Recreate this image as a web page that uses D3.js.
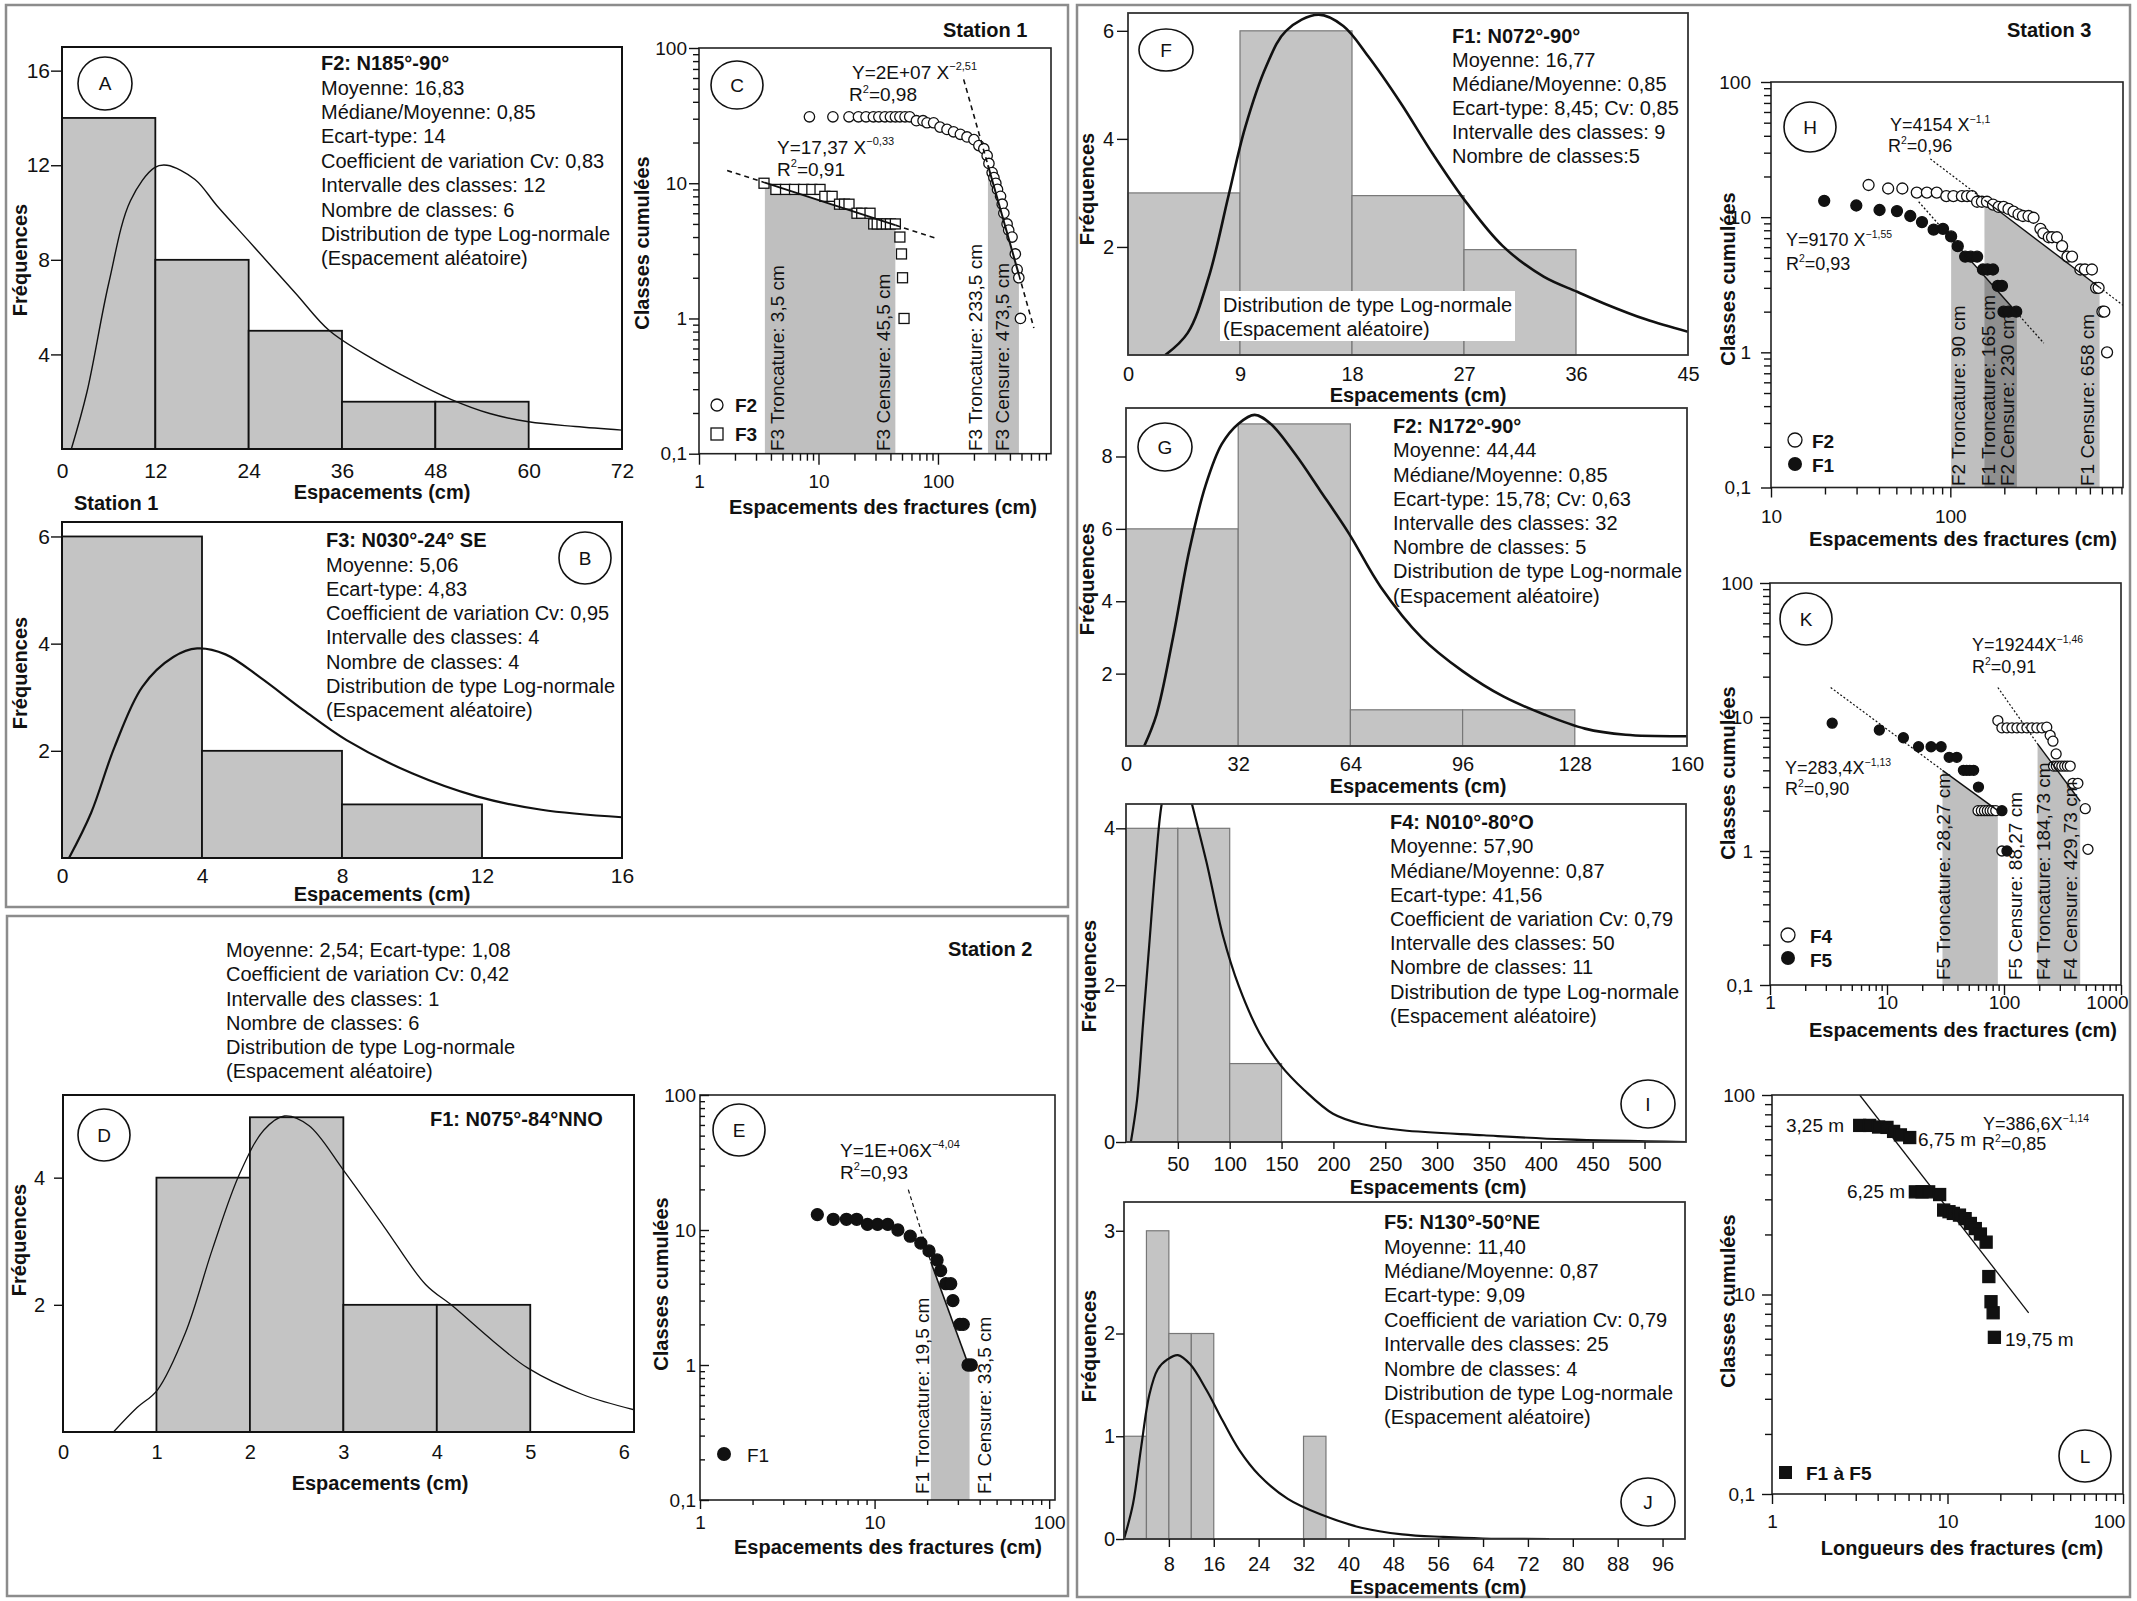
<!DOCTYPE html>
<meta charset="utf-8">
<script src="https://d3js.org/d3.v7.min.js"></script>
<style>body{margin:0;background:#fff}</style>
<div id="chart"></div>
<script>
const FONT = "'Liberation Sans', Arial, Helvetica, sans-serif";

// ---------- histogram data: class limits, frequencies, fitted log-normal curve ----------
const binsA = [[0,12],[12,24],[24,36],[36,48],[48,60]];
const freqA = [14, 8, 5, 2, 2];
const curveA = [[1.2,0],[3.2,2.4],[6,7],[8.8,10.5],[11.9,11.9],[13.5,12],[17.1,11.4],[19.9,10.3],[24,8.8],[30,6.6],[34.4,5],[40,3.8],[45,2.9],[50,2.1],[55,1.5],[60,1.15],[66,0.95],[72,0.8]];

const binsB = [[0,4],[4,8],[8,12]];
const freqB = [6, 2, 1];
const curveB = [[0.2,0],[0.83,0.84],[1.5,2.07],[2.3,3.2],[3.18,3.75],[3.86,3.91],[4.67,3.8],[5.66,3.37],[6.9,2.76],[8.13,2.2],[10,1.58],[11.85,1.15],[13.7,0.9],[16,0.76]];

const binsD = [[1,2],[2,3],[3,4],[4,5]];
const freqD = [4, 4.95, 2, 2];
const curveD = [[0.54,0],[0.79,0.38],[1.01,0.66],[1.31,1.56],[1.6,2.88],[1.89,4.06],[2.15,4.75],[2.37,4.97],[2.63,4.82],[3.0,4.12],[3.44,3.22],[3.88,2.32],[4.17,1.98],[4.61,1.42],[4.98,1.0],[5.56,0.59],[6.11,0.35]];

const binsF = [[0,9],[9,18],[18,27],[27,36]];
const freqF = [3, 6, 2.95, 1.95];
const curveF = [[3,0],[4.8,0.41],[6.5,1.45],[8.1,2.97],[9.4,4.2],[11.1,5.34],[12.7,6.0],[15.3,6.3],[17.3,6.09],[19.3,5.53],[21.9,4.67],[24.5,3.72],[27.2,2.82],[30.1,2.02],[33.4,1.45],[36.1,1.17],[38.3,0.95],[41.6,0.66],[45,0.43]];

const binsG = [[0,32],[32,64],[64,96],[96,128]];
const freqG = [6, 8.9, 1, 1];
const curveG = [[5.2,0],[8.7,0.87],[13.4,2.99],[18,5.38],[22.7,7.2],[27.3,8.34],[32,8.9],[36.7,9.15],[41.3,8.9],[48.3,8.06],[55.3,7.07],[63.6,5.87],[72.7,4.39],[84.4,2.99],[96,2.07],[107.6,1.37],[119.3,0.87],[130.9,0.48],[142.5,0.31],[160,0.27]];

const binsI = [[0,50],[50,100],[100,150]];
const freqI = [4, 4, 1];
const curveI = [[4.7,0],[10.6,0.53],[16.5,1.52],[22.4,2.51],[28.3,3.5],[34.3,4.3],[42,4.75],[50,4.8],[57,4.65],[63.8,4.3],[77.6,3.57],[93.3,2.64],[109,1.98],[128.7,1.39],[148.4,0.99],[172,0.66],[199.6,0.36],[227,0.23],[266.5,0.15],[345,0.086],[424,0.033],[541,0]];

const binsJ = [[0,4],[4,8],[8,12],[12,16],[32,36]];
const freqJ = [1, 3, 2, 2, 1];
const curveJ = [[0,0],[1.6,0.34],[3.05,0.89],[4.5,1.4],[6,1.65],[7.8,1.75],[9.6,1.79],[11.8,1.7],[14.7,1.45],[17.6,1.15],[20.5,0.87],[24.1,0.62],[29.2,0.39],[35,0.24],[42.3,0.11],[49.6,0.045],[56.9,0.02],[64,0.005],[75.8,0]];

// ---------- cumulative plots: [spacing (cm), cumulative classes] ----------
const ptsC_F2 = [[8.4,31],[13.2,31],[18,31],[21.6,31],[25,31],[28.8,31],[32,31],[36,31],[40,31],[44,31],[48,31],[53,31],[58,31],[66,29],[75,29],[81,28],[92,28],[104,26],[119,25],[135,24],[154,23],[175,22],[200,21],[220,19],[242,18],[258,16],[267,14],[284,12],[294,11],[305,10],[315,9],[334,8],[345,7],[356,6],[379,5],[391,4.5],[417,4],[444,3],[460,2.3],[475,2],[490,1]];
const ptsC_F3 = [[3.5,10],[4.4,9],[5.3,9],[6.3,9],[7.5,9],[8.8,9],[10.3,9],[11.3,8],[13,8],[15,7],[16.5,7],[18,7],[21,6],[23,6],[27,6],[29,5],[31,5],[34,5],[37,5],[40,5],[44,5],[48,4],[49.5,3],[50.5,2],[52,1]];
const fitC_F2 = [[164,58.6],[262,13.6],[476,2.1],[635,0.85]];
const fitC_F3 = [[1.72,12.4],[3.56,10.1],[44,4.9],[98,3.9]];

const ptsE_F1 = [[4.7,13],[5.8,12],[6.9,12],[7.9,12],[9.1,11],[10.4,11],[11.9,11],[13.6,10],[16,9],[18.4,8],[20.5,7],[22.8,6],[23.9,5],[25.6,4],[27.3,4],[28.1,3],[30.8,2],[32.2,2],[34.3,1],[35.8,1]];
const fitE_F1 = [[15.6,19.9],[21,5.8],[35,0.95]];

const ptsH_F2 = [[35,17.3],[45,16.3],[54,16.3],[65,15.2],[74,15.2],[84,15.2],[95,14.3],[104,14.3],[116,14.3],[124,14.3],[132,14.3],[141,13],[150,13],[160,13],[173,12.4],[186,11.9],[198,11.9],[211,11.5],[225,11],[240,10.5],[254,10.2],[273,10.2],[291,9.9],[318,8.2],[330,7.6],[354,7.1],[369,7.1],[393,7.1],[420,6.1],[450,5.1],[477,5.1],[531,4.1],[563,4.1],[616,4.1],[650,3.0],[671,3.0],[705,2.0],[722,2.0],[748,1.0]];
const ptsH_F1 = [[19.8,13.2],[29.9,12.2],[40.3,11.3],[50.4,11.1],[59.8,10.2],[69.5,9.2],[80.7,8.1],[91,8.2],[101,7.2],[110,6.1],[121,5.1],[130,5.1],[141,5.1],[152,4.1],[161,4.1],[173,4.1],[184,3.1],[194,3.1],[198,2.0],[211,2.0],[233,2.0]];
const fitH_F1 = [[66.6,13],[101,6.96],[235,1.96],[332,1.17]];
const fitH_F2 = [[77.3,27],[155,13.4],[680,3.02],[918,2.23]];

const ptsK_F4 = [[60,2],[64,2],[68,2],[72,2],[76,2],[80,2],[85,2],[96,1],[88.6,9.4],[96,8.3],[106,8.3],[117,8.3],[129,8.3],[142,8.3],[157,8.3],[173,8.3],[191,8.3],[211,8.3],[232,8.4],[248,7.3],[262,6.6],[279,5.3],[265,4.3],[280,4.3],[295,4.3],[312,4.3],[330,4.3],[348,4.3],[368,4.3],[388,3.2],[428,3.2],[495,2.07],[522,1.03]];
const ptsK_F5 = [[3.4,9],[8.6,8],[13.8,7],[18.6,6],[23.8,6],[29,6],[34,5],[39.5,5],[45,4],[48,4],[51,4],[55,4],[60.5,3],[96,2],[106,1]];
const fitK_F5 = [[3.3,16.6],[29.8,4.0],[88.6,2.0]];
const fitK_F4 = [[88.6,16.6],[193.6,6.3],[448,2.35]];

const ptsL = [[3.16,70.4],[3.6,70.4],[4.05,69.1],[4.52,68.8],[4.93,65.7],[5.39,63.1],[6.09,61.2],[6.56,32.7],[7.16,32.7],[7.81,32.7],[9.02,31.7],[9.51,26.5],[10.2,26],[10.8,25.5],[11.7,25],[12.6,24],[13.5,22.7],[14.4,21.4],[15.4,20.1],[16.6,18.3],[17.2,12.3],[17.7,9.2],[18.2,8.1],[18.5,6.1]];
const fitL = [[3.16,100],[29,8.09]];
const yTicksL = [1, 10, 100];
const yTickLabelsL = ["0,1", "10", "100"];

// ---------- text blocks ----------
const infoA = ["F2: N185°-90°","Moyenne: 16,83","Médiane/Moyenne: 0,85","Ecart-type: 14","Coefficient de variation Cv: 0,83","Intervalle des classes: 12","Nombre de classes: 6","Distribution de type Log-normale","(Espacement aléatoire)"];
const infoB = ["F3: N030°-24° SE","Moyenne: 5,06","Ecart-type: 4,83","Coefficient de variation Cv: 0,95","Intervalle des classes: 4","Nombre de classes: 4","Distribution de type Log-normale","(Espacement aléatoire)"];
const infoD = ["Moyenne: 2,54; Ecart-type: 1,08","Coefficient de variation Cv: 0,42","Intervalle des classes: 1","Nombre de classes: 6","Distribution de type Log-normale","(Espacement aléatoire)"];
const infoF = ["F1: N072°-90°","Moyenne: 16,77","Médiane/Moyenne: 0,85","Ecart-type: 8,45; Cv: 0,85","Intervalle des classes: 9","Nombre de classes:5"];
const infoF2 = ["Distribution de type Log-normale","(Espacement aléatoire)"];
const infoG = ["F2: N172°-90°","Moyenne: 44,44","Médiane/Moyenne: 0,85","Ecart-type: 15,78; Cv: 0,63","Intervalle des classes: 32","Nombre de classes: 5","Distribution de type Log-normale","(Espacement aléatoire)"];
const infoI = ["F4: N010°-80°O","Moyenne: 57,90","Médiane/Moyenne: 0,87","Ecart-type: 41,56","Coefficient de variation Cv: 0,79","Intervalle des classes: 50","Nombre de classes: 11","Distribution de type Log-normale","(Espacement aléatoire)"];
const infoJ = ["F5: N130°-50°NE","Moyenne: 11,40","Médiane/Moyenne: 0,87","Ecart-type: 9,09","Coefficient de variation Cv: 0,79","Intervalle des classes: 25","Nombre de classes: 4","Distribution de type Log-normale","(Espacement aléatoire)"];

// ---------- svg ----------
const svg = d3.select("#chart").append("svg")
  .attr("width", 2137).attr("height", 1601)
  .style("font-family", FONT);
svg.append("rect").attr("width", 2137).attr("height", 1601).attr("fill", "#fff");

// outer frames
[[6,5,1068,907],[7,916,1068,1596],[1077,5,2130,1597]].forEach(f => {
  svg.append("rect").attr("x", f[0]).attr("y", f[1]).attr("width", f[2]-f[0]).attr("height", f[3]-f[1])
    .attr("fill", "none").attr("stroke", "#8c8c8c").attr("stroke-width", 2.5);
});

function addText(x, yc, s, size, opts) {
  opts = opts || {};
  return svg.append("text").attr("x", x).attr("y", yc + size*0.36)
    .attr("font-size", size).attr("font-weight", opts.bold ? "bold" : "normal")
    .attr("text-anchor", opts.anchor || "start").attr("fill", "#111").text(s);
}
function addVText(cx, y, s, size, opts) {
  opts = opts || {};
  return svg.append("text").attr("transform", `translate(${cx + size*0.36},${y}) rotate(-90)`)
    .attr("font-size", size).attr("font-weight", opts.bold ? "bold" : "normal")
    .attr("text-anchor", opts.anchor || "middle").attr("fill", "#111").text(s);
}
function addEq(x, yc, parts, size) {
  const t = svg.append("text").attr("x", x).attr("y", yc + size*0.36).attr("font-size", size).attr("fill", "#111");
  let shift = 0;
  parts.forEach(p => {
    const sup = Array.isArray(p);
    const target = sup ? -size*0.45 : 0;
    t.append("tspan").attr("dy", target - shift).attr("font-size", sup ? size*0.58 : size).text(sup ? p[0] : p);
    shift = target;
  });
}
function block(x, y0, step, lines, boldFirst) {
  lines.forEach((s, i) => addText(x, y0 + i*step, s, 20, {bold: boldFirst && i === 0}));
}
function badge(cx, cy, rx, ry, letter) {
  svg.append("ellipse").attr("cx", cx).attr("cy", cy).attr("rx", rx).attr("ry", ry)
    .attr("fill", "none").attr("stroke", "#111").attr("stroke-width", 1.6);
  addText(cx, cy, letter, 19, {anchor: "middle"});
}
function styleAxis(a, size) {
  a.select(".domain").remove();
  a.attr("font-size", size).attr("font-family", FONT);
  a.selectAll("line").attr("stroke", "#111").attr("stroke-width", 1.4);
  a.selectAll("text").attr("fill", "#111");
}

// ---------- histogram panel ----------
function histPanel(p) {
  const [x0, y0, x1, y1] = p.box;
  const x = d3.scaleLinear().domain(p.xDomain).range([x0, x1]);
  const y = d3.scaleLinear().domain(p.yDomain).range([y1, y0]);
  const g = svg.append("g");
  const id = "clip" + p.name;
  g.append("clipPath").attr("id", id).append("rect")
    .attr("x", x0).attr("y", y0).attr("width", x1 - x0).attr("height", y1 - y0);
  g.selectAll(".bar").data(p.bins).join("rect").attr("class", "bar")
    .attr("x", d => x(d[0])).attr("width", d => x(d[1]) - x(d[0]))
    .attr("y", (d, i) => y(p.freq[i])).attr("height", (d, i) => y(0) - y(p.freq[i]))
    .attr("fill", "#c4c4c4").attr("stroke", p.barStroke).attr("stroke-width", p.barWidth);
  if (p.overlay) p.overlay(g);
  g.append("path").datum(p.curve).attr("clip-path", `url(#${id})`)
    .attr("fill", "none").attr("stroke", "#111").attr("stroke-width", p.curveWidth)
    .attr("d", d3.line().x(d => x(d[0])).y(d => y(d[1])).curve(d3.curveCatmullRom.alpha(0.5)));
  g.append("rect").attr("x", x0).attr("y", y0).attr("width", x1 - x0).attr("height", y1 - y0)
    .attr("fill", "none").attr("stroke", p.boxStroke).attr("stroke-width", p.boxWidth);
  const ax = g.append("g").attr("transform", `translate(0,${y1})`)
    .call(d3.axisBottom(x).tickValues(p.xTicks).tickSize(p.xt[0]).tickPadding(p.xt[1]).tickFormat(d3.format("d")));
  styleAxis(ax, p.font);
  const ay = g.append("g").attr("transform", `translate(${x0},0)`)
    .call(d3.axisLeft(y).tickValues(p.yTicks).tickSize(p.yt[0]).tickPadding(p.yt[1]).tickFormat(d3.format("d")));
  styleAxis(ay, p.font);
  return {x, y};
}

// ---------- log-log cumulative panel ----------
function logTickValues(dom) {
  const out = [];
  for (let e = Math.floor(Math.log10(dom[0])); e <= Math.ceil(Math.log10(dom[1])); e++) {
    for (let k = 1; k <= 9; k++) {
      const v = +(k * Math.pow(10, e)).toPrecision(6);
      if (v >= dom[0] * 0.999 && v <= dom[1] * 1.001) out.push(v);
    }
  }
  return out;
}
const isPow10 = v => Math.abs(Math.log10(v) - Math.round(Math.log10(v))) < 1e-9;
const frLabel = v => String(v).replace(".", ",");

function logPanel(p) {
  const [x0, y0, x1, y1] = p.box;
  const x = d3.scaleLog().domain(p.xDomain).range([x0, x1]);
  const y = d3.scaleLog().domain(p.yDomain).range([y1, y0]);
  const g = svg.append("g");
  const id = "clip" + p.name;
  g.append("clipPath").attr("id", id).append("rect")
    .attr("x", x0).attr("y", y0).attr("width", x1 - x0).attr("height", y1 - y0);
  const inner = g.append("g").attr("clip-path", `url(#${id})`);
  // shaded truncation / censoring bands under the solid part of each fit
  p.fits.forEach(f => {
    if (!f.band) return;
    const i = f.kinds.indexOf("solid");
    const a = f.pts[i], b = f.pts[i + 1];
    inner.append("path")
      .attr("d", `M${x(a[0])},${y1}L${x(a[0])},${y(a[1])}L${x(b[0])},${y(b[1])}L${x(b[0])},${y1}Z`)
      .attr("fill", "#000").attr("fill-opacity", 0.25);
  });
  // points
  p.series.forEach(s => {
    if (s.shape === "circle") {
      inner.selectAll(null).data(s.data).join("circle")
        .attr("cx", d => x(d[0])).attr("cy", d => y(d[1])).attr("r", s.size)
        .attr("fill", s.filled ? "#111" : "#fff").attr("stroke", "#111").attr("stroke-width", 1.3);
    } else {
      inner.selectAll(null).data(s.data).join("rect")
        .attr("x", d => x(d[0]) - s.size).attr("y", d => y(d[1]) - s.size)
        .attr("width", 2*s.size).attr("height", 2*s.size)
        .attr("fill", s.filled ? "#111" : "#fff").attr("stroke", "#111").attr("stroke-width", 1.3);
    }
  });
  // fit lines
  p.fits.forEach(f => {
    for (let i = 0; i < f.pts.length - 1; i++) {
      const a = f.pts[i], b = f.pts[i + 1], solid = f.kinds[i] === "solid";
      inner.append("line").attr("x1", x(a[0])).attr("y1", y(a[1])).attr("x2", x(b[0])).attr("y2", y(b[1]))
        .attr("stroke", "#111").attr("stroke-width", solid ? f.w : f.dw)
        .attr("stroke-dasharray", solid ? null : f.dash);
    }
  });
  g.append("rect").attr("x", x0).attr("y", y0).attr("width", x1 - x0).attr("height", y1 - y0)
    .attr("fill", "none").attr("stroke", "#222").attr("stroke-width", 1.6);
  // axes with minor ticks
  const xv = logTickValues(p.xDomain), yv = p.yMajor || logTickValues(p.yDomain).filter(isPow10);
  const xMaj = xv.filter(isPow10), xMin = xv.filter(v => !isPow10(v));
  const yMin = logTickValues(p.yDomain).filter(v => !isPow10(v));
  const yFmt = p.yLabels ? (v => p.yLabels[p.yMajor.indexOf(v)]) : frLabel;
  const ax = g.append("g").attr("transform", `translate(0,${y1})`)
    .call(d3.axisBottom(x).tickValues(xMaj).tickSize(p.xt[0]).tickPadding(p.xt[2]).tickFormat(frLabel));
  styleAxis(ax, p.font);
  if (p.lastXLabelDx) ax.selectAll("text").filter((d, i, n) => i === n.length - 1).attr("dx", p.lastXLabelDx);
  styleAxis(g.append("g").attr("transform", `translate(0,${y1})`)
    .call(d3.axisBottom(x).tickValues(xMin).tickSize(p.xt[1]).tickFormat("")), p.font);
  styleAxis(g.append("g").attr("transform", `translate(${x0},0)`)
    .call(d3.axisLeft(y).tickValues(yv).tickSize(p.yt[0]).tickPadding(p.yt[2]).tickFormat(yFmt)), p.font);
  styleAxis(g.append("g").attr("transform", `translate(${x0},0)`)
    .call(d3.axisLeft(y).tickValues(yMin).tickSize(p.yt[1]).tickFormat("")), p.font);
  return {x, y};
}

// ================= Station 1 =================
histPanel({name: "A", box: [62, 47, 622, 449], xDomain: [0, 72], yDomain: [0, 17],
  bins: binsA, freq: freqA, curve: curveA, xTicks: [0,12,24,36,48,60,72], yTicks: [4,8,12,16],
  xt: [0, 14], yt: [11, 1], font: 21, barStroke: "#111", barWidth: 1.8, curveWidth: 1.4, boxStroke: "#111", boxWidth: 2});
badge(105, 83.5, 27, 26.5, "A");
block(321, 63, 24.4, infoA, true);
addVText(19.5, 260, "Fréquences", 20, {bold: true});
addText(382, 492, "Espacements (cm)", 20, {bold: true, anchor: "middle"});

histPanel({name: "B", box: [62, 522, 622, 858], xDomain: [0, 16], yDomain: [0, 6.27],
  bins: binsB, freq: freqB, curve: curveB, xTicks: [0,4,8,12,16], yTicks: [2,4,6],
  xt: [0, 10.5], yt: [11, 1], font: 21, barStroke: "#111", barWidth: 1.8, curveWidth: 2.2, boxStroke: "#111", boxWidth: 2});
badge(585, 558, 26, 26, "B");
block(326, 540, 24.3, infoB, true);
addText(74, 503, "Station 1", 20, {bold: true});
addVText(19.5, 673, "Fréquences", 20, {bold: true});
addText(382, 894, "Espacements (cm)", 20, {bold: true, anchor: "middle"});

logPanel({name: "C", box: [699, 48, 1051, 453.7], xDomain: [1, 883], yDomain: [0.1, 100],
  xt: [11, 7, 9.5], yt: [10, 6, 2], font: 19,
  series: [{data: ptsC_F2, shape: "circle", filled: false, size: 5.2},
           {data: ptsC_F3, shape: "square", filled: false, size: 5}],
  fits: [{pts: fitC_F3, kinds: ["dash","solid","dash"], band: true, w: 2, dw: 1.6, dash: "5,4"},
         {pts: fitC_F2, kinds: ["dash","solid","dash"], band: true, w: 2, dw: 1.6, dash: "5,4"}]});
badge(737, 85, 26, 24, "C");
addText(943, 30, "Station 1", 20, {bold: true});
addEq(852, 72, ["Y=2E+07 X", ["−2,51"]], 19);
addEq(849, 94.6, ["R", ["2"], "=0,98"], 19);
addEq(777, 147, ["Y=17,37 X", ["−0,33"]], 19);
addEq(777, 169, ["R", ["2"], "=0,91"], 19);
addVText(777, 451, "F3 Troncature: 3,5 cm", 19, {anchor: "start"});
addVText(883, 451, "F3 Censure: 45,5 cm", 19, {anchor: "start"});
addVText(975, 451, "F3 Troncature: 233,5 cm", 19, {anchor: "start"});
addVText(1002, 451, "F3 Censure: 473,5 cm", 19, {anchor: "start"});
svg.append("circle").attr("cx", 717).attr("cy", 405).attr("r", 6).attr("fill", "#fff").attr("stroke", "#111").attr("stroke-width", 1.3);
addText(735, 405, "F2", 19, {bold: true});
svg.append("rect").attr("x", 711).attr("y", 428).attr("width", 12).attr("height", 12).attr("fill", "#fff").attr("stroke", "#111").attr("stroke-width", 1.3);
addText(735, 434, "F3", 19, {bold: true});
addVText(642, 243, "Classes cumulées", 20, {bold: true});
addText(883, 507, "Espacements des fractures (cm)", 20, {bold: true, anchor: "middle"});

// ================= Station 2 =================
block(226, 950, 24.2, infoD, false);
addText(948, 949, "Station 2", 20, {bold: true});
histPanel({name: "D", box: [63, 1095, 634, 1432], xDomain: [0, 6.11], yDomain: [0, 5.3],
  bins: binsD, freq: freqD, curve: curveD, xTicks: [0,1,2,3,4,5,6], yTicks: [2,4],
  xt: [0, 13], yt: [9, 9], font: 20, barStroke: "#111", barWidth: 1.8, curveWidth: 1.3, boxStroke: "#111", boxWidth: 2});
badge(104, 1135, 26, 26, "D");
addText(430, 1119, "F1: N075°-84°NNO", 20, {bold: true});
addVText(19, 1240, "Fréquences", 20, {bold: true});
addText(380, 1483, "Espacements (cm)", 20, {bold: true, anchor: "middle"});

logPanel({name: "E", box: [700, 1095, 1055, 1500], xDomain: [1, 108], yDomain: [0.1, 100],
  xt: [9, 5, 7], yt: [-9, -5, 4], font: 19,
  series: [{data: ptsE_F1, shape: "circle", filled: true, size: 6}],
  fits: [{pts: fitE_F1, kinds: ["dash","solid"], band: true, w: 1.6, dw: 1.2, dash: "4,3"}]});
badge(739, 1130, 26, 26, "E");
addEq(840, 1150, ["Y=1E+06X", ["−4,04"]], 19);
addEq(840, 1172, ["R", ["2"], "=0,93"], 19);
addVText(922, 1494, "F1 Troncature: 19,5 cm", 19, {anchor: "start"});
addVText(984, 1494, "F1 Censure: 33,5 cm", 19, {anchor: "start"});
svg.append("circle").attr("cx", 724).attr("cy", 1454).attr("r", 7).attr("fill", "#111");
addText(747, 1455, "F1", 19);
addVText(661, 1284, "Classes cumulées", 20, {bold: true});
addText(888, 1547, "Espacements des fractures (cm)", 20, {bold: true, anchor: "middle"});

// ================= Station 3 =================
histPanel({name: "F", box: [1128, 13, 1688, 355], xDomain: [0, 45], yDomain: [0, 6.33],
  bins: binsF, freq: freqF, curve: curveF, xTicks: [0,9,18,27,36,45], yTicks: [2,4,6],
  xt: [0, 12], yt: [11, 3], font: 20, barStroke: "#777", barWidth: 1.2, curveWidth: 2.6, boxStroke: "#333", boxWidth: 1.8,
  overlay: g => g.append("rect").attr("x", 1220).attr("y", 291).attr("width", 295).attr("height", 50).attr("fill", "#fff")});
badge(1166, 50, 27, 21, "F");
block(1452, 36, 24, infoF, true);
block(1223, 305, 24, infoF2, false);
addVText(1087, 189, "Fréquences", 20, {bold: true});
addText(1418, 395, "Espacements (cm)", 20, {bold: true, anchor: "middle"});

histPanel({name: "G", box: [1126, 408, 1687, 746], xDomain: [0, 160], yDomain: [0, 9.34],
  bins: binsG, freq: freqG, curve: curveG, xTicks: [0,32,64,96,128,160], yTicks: [2,4,6,8],
  xt: [0, 11], yt: [10, 3.5], font: 20, barStroke: "#777", barWidth: 1.2, curveWidth: 2.6, boxStroke: "#333", boxWidth: 1.8});
badge(1165, 447, 27, 24, "G");
block(1393, 426, 24.2, infoG, true);
addVText(1087, 579, "Fréquences", 20, {bold: true});
addText(1418, 786, "Espacements (cm)", 20, {bold: true, anchor: "middle"});

histPanel({name: "I", box: [1126, 804, 1686, 1142], xDomain: [0, 540], yDomain: [0, 4.31],
  bins: binsI, freq: freqI, curve: curveI, xTicks: [50,100,150,200,250,300,350,400,450,500], yTicks: [0,2,4],
  xt: [7, 8], yt: [10, 1], font: 20, barStroke: "#777", barWidth: 1.2, curveWidth: 2.2, boxStroke: "#333", boxWidth: 1.8});
badge(1648, 1104, 27, 24, "I");
block(1390, 822, 24.2, infoI, true);
addVText(1089, 976, "Fréquences", 20, {bold: true});
addText(1438, 1187, "Espacements (cm)", 20, {bold: true, anchor: "middle"});

histPanel({name: "J", box: [1124, 1202, 1685, 1539], xDomain: [0, 100], yDomain: [0, 3.28],
  bins: binsJ, freq: freqJ, curve: curveJ, xTicks: [8,16,24,32,40,48,56,64,72,80,88,96], yTicks: [0,1,2,3],
  xt: [8, 10], yt: [8, 1], font: 20, barStroke: "#777", barWidth: 1.2, curveWidth: 2.2, boxStroke: "#333", boxWidth: 1.8});
badge(1648, 1502, 27, 24, "J");
block(1384, 1222, 24.4, infoJ, true);
addVText(1089, 1346, "Fréquences", 20, {bold: true});
addText(1438, 1587, "Espacements (cm)", 20, {bold: true, anchor: "middle"});

logPanel({name: "H", box: [1771, 82, 2123, 487.5], xDomain: [10, 918], yDomain: [0.1, 100],
  xt: [10, 7, 12], yt: [10, 7, 10], font: 19,
  series: [{data: ptsH_F2, shape: "circle", filled: false, size: 5.5},
           {data: ptsH_F1, shape: "circle", filled: true, size: 5.5}],
  fits: [{pts: fitH_F1, kinds: ["dash","solid","dash"], band: true, w: 1.4, dw: 1.2, dash: "2,2"},
         {pts: fitH_F2, kinds: ["dash","solid","dash"], band: true, w: 1.4, dw: 1.2, dash: "2,2"}]});
badge(1810, 127, 26, 25, "H");
addText(2007, 30, "Station 3", 20, {bold: true});
addEq(1890, 125, ["Y=4154 X", ["−1,1"]], 18);
addEq(1888, 146, ["R", ["2"], "=0,96"], 18);
addEq(1786, 240, ["Y=9170 X", ["−1,55"]], 18);
addEq(1786, 264, ["R", ["2"], "=0,93"], 18);
addVText(1958, 486, "F2 Troncature: 90 cm", 19, {anchor: "start"});
addVText(1988, 486, "F1 Troncature: 165 cm", 19, {anchor: "start"});
addVText(2007, 486, "F2 Censure: 230 cm", 19, {anchor: "start"});
addVText(2087, 486, "F1 Censure: 658 cm", 19, {anchor: "start"});
svg.append("circle").attr("cx", 1795).attr("cy", 440).attr("r", 7).attr("fill", "#fff").attr("stroke", "#111").attr("stroke-width", 1.3);
addText(1812, 441, "F2", 19, {bold: true});
svg.append("circle").attr("cx", 1795).attr("cy", 464).attr("r", 7).attr("fill", "#111");
addText(1812, 465, "F1", 19, {bold: true});
addVText(1728, 279, "Classes cumulées", 20, {bold: true});
addText(1963, 539, "Espacements des fractures (cm)", 20, {bold: true, anchor: "middle"});

logPanel({name: "K", box: [1770, 583, 2121, 985], xDomain: [1, 1000], yDomain: [0.1, 100],
  xt: [10, 6, 0.5], yt: [10, 7, 7], font: 19, lastXLabelDx: -14,
  series: [{data: ptsK_F4, shape: "circle", filled: false, size: 5},
           {data: ptsK_F5, shape: "circle", filled: true, size: 5}],
  fits: [{pts: fitK_F5, kinds: ["dash","solid"], band: true, w: 1.4, dw: 1.2, dash: "2,2"},
         {pts: fitK_F4, kinds: ["dash","solid"], band: true, w: 1.4, dw: 1.2, dash: "2,2"}]});
badge(1806, 619, 26, 26, "K");
addEq(1972, 645, ["Y=19244X", ["−1,46"]], 18);
addEq(1972, 667, ["R", ["2"], "=0,91"], 18);
addEq(1785, 768, ["Y=283,4X", ["−1,13"]], 18);
addEq(1785, 789, ["R", ["2"], "=0,90"], 18);
addVText(1943, 980, "F5 Troncature: 28,27 cm", 19, {anchor: "start"});
addVText(2015, 980, "F5 Censure: 88,27 cm", 19, {anchor: "start"});
addVText(2043, 980, "F4 Troncature: 184,73 cm", 19, {anchor: "start"});
addVText(2070, 980, "F4 Censure: 429,73 cm", 19, {anchor: "start"});
svg.append("circle").attr("cx", 1788).attr("cy", 935).attr("r", 7).attr("fill", "#fff").attr("stroke", "#111").attr("stroke-width", 1.3);
addText(1810, 936, "F4", 19, {bold: true});
svg.append("circle").attr("cx", 1788).attr("cy", 958).attr("r", 7).attr("fill", "#111");
addText(1810, 960, "F5", 19, {bold: true});
addVText(1728, 773, "Classes cumulées", 20, {bold: true});
addText(1963, 1030, "Espacements des fractures (cm)", 20, {bold: true, anchor: "middle"});

logPanel({name: "L", box: [1772, 1095, 2123, 1494], xDomain: [1, 100], yDomain: [1, 100],
  yMajor: yTicksL, yLabels: yTickLabelsL, lastXLabelDx: -14,
  xt: [10, 7, 11], yt: [10, 7, 7], font: 19,
  series: [{data: ptsL, shape: "square", filled: true, size: 6}],
  fits: [{pts: fitL, kinds: ["solid"], band: false, w: 1.3, dw: 1.3, dash: null}]});
badge(2085, 1456, 26, 26, "L");
addEq(1983, 1124, ["Y=386,6X", ["−1,14"]], 18);
addEq(1982, 1144, ["R", ["2"], "=0,85"], 18);
addText(1786, 1125, "3,25 m", 19);
addText(1918, 1139, "6,75 m", 19);
addText(1847, 1191, "6,25 m", 19);
addText(2005, 1339, "19,75 m", 19);
svg.append("rect").attr("x", 1779).attr("y", 1466).attr("width", 13).attr("height", 13).attr("fill", "#111");
addText(1806, 1473, "F1 à F5", 19, {bold: true});
addVText(1728, 1301, "Classes cumulées", 20, {bold: true});
addText(1962, 1548, "Longueurs des fractures (cm)", 20, {bold: true, anchor: "middle"});
</script>
